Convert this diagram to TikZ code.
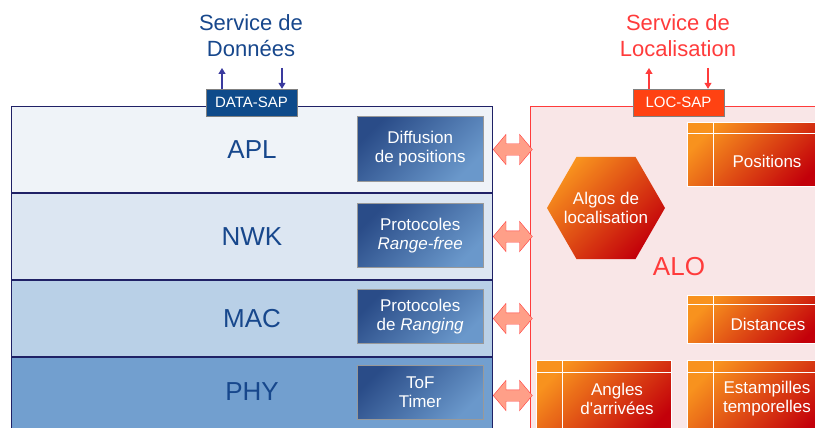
\documentclass[tikz,border=0pt]{standalone}
\usepackage{fontspec}
\setmainfont{Liberation Sans}
\usepackage{xcolor}
\usepackage{tikz}
\usetikzlibrary{positioning,arrows.meta,shapes.geometric,shapes.arrows}
\definecolor{laytext}{HTML}{17478C}
\definecolor{layline}{HTML}{1F2166}
\definecolor{aplfill}{HTML}{EFF3F8}
\definecolor{nwkfill}{HTML}{DCE6F2}
\definecolor{macfill}{HTML}{B9D0E7}
\definecolor{phyfill}{HTML}{729FCF}
\definecolor{fctdark}{HTML}{2A4C88}
\definecolor{fctlight}{HTML}{6A98CB}
\definecolor{sapblue}{HTML}{0E4A8A}
\definecolor{sapred}{HTML}{FF4212}
\definecolor{alored}{HTML}{FF3B3B}
\definecolor{alofill}{HTML}{F9E6E7}
\definecolor{arrfill}{HTML}{FF9F88}
\definecolor{orgA}{HTML}{F8921E}
\definecolor{orgB}{HTML}{C3000A}
\definecolor{saparrow}{HTML}{3A3A9E}
\tikzset{
  layer/.style ={rectangle, draw=layline, line width=1pt, minimum width=481pt,
                 inner sep=0pt, text=laytext, font=\fontsize{26}{30}\selectfont},
  fct/.style   ={rectangle, draw=gray!80, shade, shading=axis, top color=fctdark,
                 bottom color=fctlight, shading angle=45, text=white, align=center,
                 inner sep=0pt, minimum width=126pt, font=\fontsize{17}{19}\selectfont},
  orng/.style  ={shade, shading=axis, top color=orgA, bottom color=orgB,
                 shading angle=45},
  tbl/.style   ={rectangle, orng, draw=white, line width=1.2pt, inner sep=0pt,
                 anchor=north west},
  lbl/.style   ={text=white, align=center, font=\fontsize{17}{19}\selectfont},
  sap/.style   ={rectangle, draw=gray, minimum width=91pt, minimum height=27pt,
                 inner sep=0pt, text=white, font=\fontsize{15}{18}\selectfont},
  svc/.style   ={align=center, font=\fontsize{22}{26}\selectfont},
  dblarr/.style={double arrow, draw=alored, fill=arrfill, minimum height=39pt,
                 inner xsep=0pt, inner ysep=5.5pt, double arrow head extend=9.5pt,
                 double arrow tip angle=100},
  saparr/.style={-{Triangle[length=6pt, width=7pt]}, line width=1.2pt},
}
\begin{document}
\begin{tikzpicture}[x=1pt, y=-1pt]
  \useasboundingbox (0,0) rectangle (815,428);
  \clip (0,0) rectangle (815,428);

  % protocol stack
  \node[layer, fill=aplfill, minimum height=86pt, anchor=north west] (apl) at (11,106) {APL};
  \node[layer, fill=nwkfill, minimum height=86pt, below=0pt of apl] (nwk) {NWK};
  \node[layer, fill=macfill, minimum height=76pt, below=0pt of nwk] (mac) {MAC};
  \node[layer, fill=phyfill, minimum height=76pt, text depth=8pt, below=0pt of mac] (phy) {PHY};

  % ALO block
  \node[rectangle, draw=alored, line width=1pt, fill=alofill, anchor=north west,
        minimum width=300pt, minimum height=340pt] (alo) at (530,106) {};

  \node[fct, minimum height=65pt, anchor=north west] (diff) at (357,116) {Diffusion\\de positions};
  \node[fct, minimum height=64pt, anchor=north west] (rfree) at (357,203) {Protocoles\\\textit{Range-free}};
  \node[fct, minimum height=54pt, anchor=north west] (rang) at (357,289) {Protocoles\\de \textit{Ranging}};
  \node[fct, minimum height=54pt, anchor=north west] (tof) at (357,365) {ToF\\Timer};

  \node[dblarr, right=0pt of apl] (a1) {};
  \node[dblarr, right=0pt of nwk] (a2) {};
  \node[dblarr, right=0pt of mac] (a3) {};
  \node[dblarr, right=0pt of phy] (a4) {};

  % access points
  \node[sap, fill=sapblue] (dsap) at (251.5,102.5) {DATA-SAP};
  \node[sap, fill=sapred] (lsap) at (678.5,102.5) {LOC-SAP};
  \node[svc, text=laytext] (dsvc) at (251,36) {Service de\\Données};
  \node[svc, text=alored] (lsvc) at (678,36) {Service de\\Localisation};

  \coordinate (dup) at (222,68);
  \coordinate (ddn) at (282,68);
  \coordinate (lup) at (649,68);
  \coordinate (ldn) at (708,68);
  \draw[saparr, saparrow] (dup |- dsap.north) -- (dup);
  \draw[saparr, saparrow] (ddn) -- (ddn |- dsap.north);
  \draw[saparr, alored] (lup |- lsap.north) -- (lup);
  \draw[saparr, alored] (ldn) -- (ldn |- lsap.north);

  % localisation contents
  \node[regular polygon, regular polygon sides=6, minimum size=118pt, inner sep=0pt,
        orng] (algo) at (606,208) {};
  \node[lbl] (algoname) at (algo.center) {Algos de\\localisation};
  \node[text=alored, font=\fontsize{26}{30}\selectfont] (aloname) at (679,267) {ALO};

  \node[tbl, minimum width=140pt, minimum height=64pt] (pos) at (687,122) {};
  \node[tbl, minimum width=140pt, minimum height=48pt] (dist) at (687,295) {};
  \node[tbl, minimum width=135pt, minimum height=80pt] (aoa) at (536,360) {};
  \node[tbl, minimum width=140pt, minimum height=80pt] (ts) at (687,360) {};

  \draw[white, line width=1pt] ([xshift=26pt]pos.north west) -- ([xshift=26pt]pos.south west);
  \draw[white, line width=1pt] ([yshift=-12pt]pos.north west) -- ([yshift=-12pt]pos.north east);
  \draw[white, line width=1pt] ([xshift=26pt]dist.north west) -- ([xshift=26pt]dist.south west);
  \draw[white, line width=1pt] ([yshift=-9pt]dist.north west) -- ([yshift=-9pt]dist.north east);
  \draw[white, line width=1pt] ([xshift=26pt]aoa.north west) -- ([xshift=26pt]aoa.south west);
  \draw[white, line width=1pt] ([yshift=-12pt]aoa.north west) -- ([yshift=-12pt]aoa.north east);
  \draw[white, line width=1pt] ([xshift=26pt]ts.north west) -- ([xshift=26pt]ts.south west);
  \draw[white, line width=1pt] ([yshift=-12pt]ts.north west) -- ([yshift=-12pt]ts.north east);

  \node[lbl] (posname) at (767,161) {Positions};
  \node[lbl] (distname) at (768,324) {Distances};
  \node[lbl] (aoaname) at (617,399) {Angles\\d\textquotesingle arrivées};
  \node[lbl] (tsname) at (767,399) {Estampilles\\temporelles};
\end{tikzpicture}
\end{document}
